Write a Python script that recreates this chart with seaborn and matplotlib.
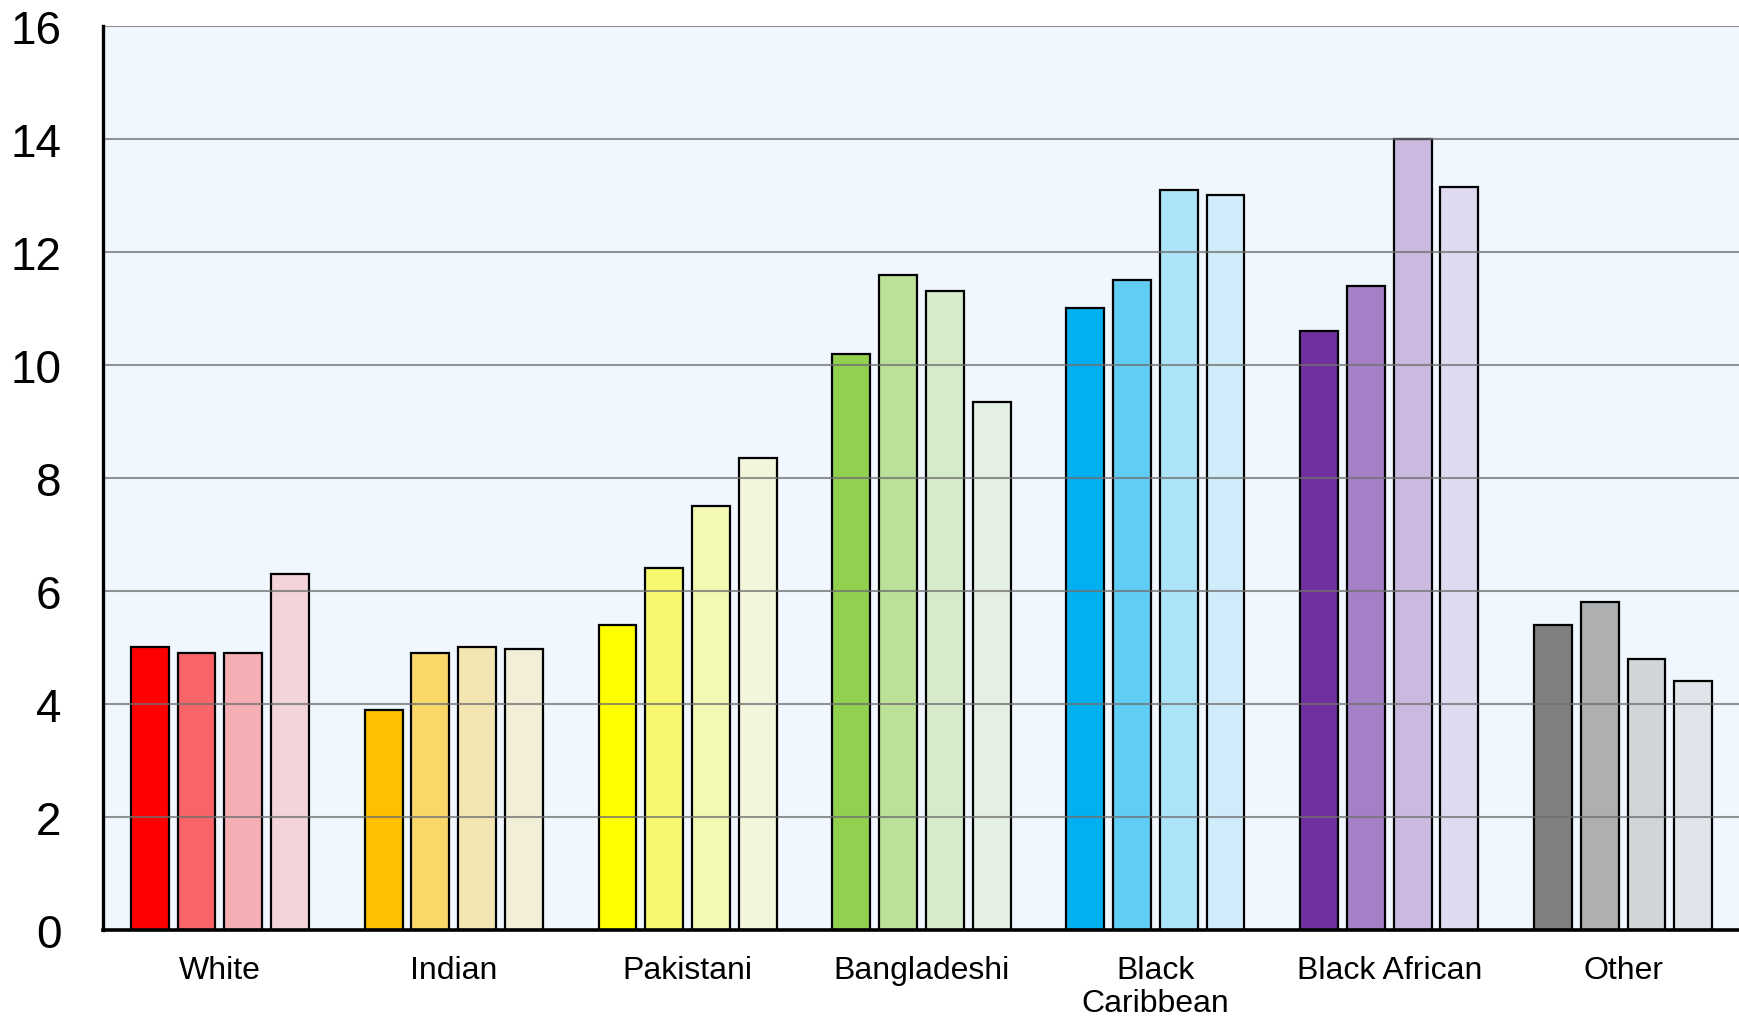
import matplotlib
matplotlib.use("Agg")
import matplotlib.pyplot as plt
import seaborn as sns
import pandas as pd

# groups along the x axis
categories = ["White", "Indian", "Pakistani", "Bangladeshi",
              "Black\nCaribbean", "Black African", "Other"]
series = ["s1", "s2", "s3", "s4"]

# one list per series
s1_values = [5.0, 3.9, 5.4, 10.2, 11.0, 10.6, 5.4]
s2_values = [4.9, 4.9, 6.4, 11.6, 11.5, 11.4, 5.8]
s3_values = [4.9, 5.0, 7.5, 11.3, 13.1, 14.0, 4.8]
s4_values = [6.3, 4.97, 8.35, 9.35, 13.0, 13.15, 4.4]

# fill colours, one palette per group (dark -> light)
group_colors = [
    ["#FF0000", "#F96468", "#F4AEB4", "#F2D4DA"],
    ["#FFC000", "#F9D869", "#F4E6B2", "#F2EED8"],
    ["#FFFF00", "#F8F870", "#F3F8B2", "#F2F7DC"],
    ["#92D050", "#BBE097", "#D6EBCA", "#E4F0E3"],
    ["#00B0F0", "#60CDF5", "#ABE3F8", "#D0ECFA"],
    ["#7030A0", "#A480C6", "#CBB9E0", "#DEDAF0"],
    ["#808080", "#AEAFB1", "#D1D5D8", "#E0E5EC"],
]

df = pd.DataFrame({
    "category": categories * 4,
    "series": [s for s in series for _ in categories],
    "value": s1_values + s2_values + s3_values + s4_values,
})

sns.set_theme(style="white")
plt.rcParams["font.family"] = ["Liberation Sans", "DejaVu Sans"]

fig = plt.figure(figsize=(17.4, 10.2), dpi=100)
ax = fig.add_axes([0.0592, 0.0873, 0.9408, 0.8863])
ax.set_facecolor("#F0F7FE")

sns.barplot(data=df, x="category", y="value", hue="series",
            order=categories, hue_order=series, width=0.8, gap=0.19,
            edgecolor="black", linewidth=1.6, legend=False, ax=ax, zorder=2)

for j, cont in enumerate(ax.containers):
    for i, bar in enumerate(cont):
        bar.set_facecolor(group_colors[i][j])

ax.set_ylim(0, 16)
ax.set_xlim(-0.5, 6.5)
ax.set_yticks(range(0, 17, 2))
ax.yaxis.grid(True, color="#707070", linewidth=1.5, alpha=0.75, zorder=3)
ax.set_axisbelow(False)

ax.set_xlabel("")
ax.set_ylabel("")
ax.tick_params(axis="y", length=0, pad=30, labelsize=33, colors="black")
ax.tick_params(axis="x", length=0, pad=18, labelsize=23, colors="black")
for lab in ax.get_xticklabels():
    lab.set_linespacing(1.12)

for side in ["top", "right"]:
    ax.spines[side].set_visible(False)
ax.spines["left"].set_linewidth(2.4)
ax.spines["bottom"].set_linewidth(2.6)
ax.spines["left"].set_color("black")
ax.spines["bottom"].set_color("black")
ax.spines["left"].set_zorder(5)
ax.spines["bottom"].set_zorder(5)

fig.savefig("out.png", dpi=100, facecolor="white")
